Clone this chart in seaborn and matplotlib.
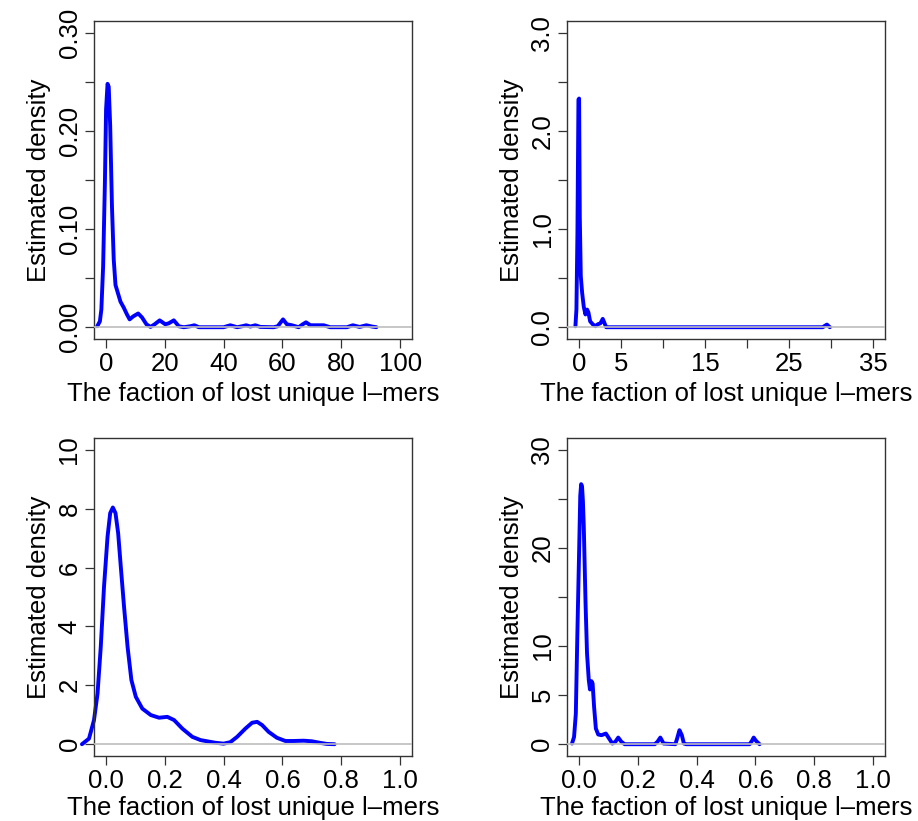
import matplotlib
matplotlib.use("Agg")
import matplotlib.pyplot as plt
import seaborn as sns
import pandas as pd

# ---------- DATA ----------
p1_x = [-2.9, -2.0, -1.5, -0.9, -0.3, 0.1, 0.6, 1.0, 1.5, 2.1, 2.7, 3.3, 4.1, 5.0, 6.1,
        7.2, 8.1, 9.3, 11.0, 12.3, 13.8, 15.2, 16.6, 18.3, 20.2, 21.4, 23.1, 24.8, 26.5,
        28.7, 30.1, 31.6, 40.0, 42.3, 44.6, 46.3, 47.7, 49.1, 50.8, 52.5, 57.0, 58.4,
        60.2, 61.5, 63.2, 65.5, 66.9, 68.0, 69.5, 71.7, 74.0, 76.2, 81.9, 83.9, 86.2,
        88.5, 90.4, 91.9]
p1_y = [0.001, 0.006, 0.018, 0.062, 0.147, 0.222, 0.248, 0.245, 0.205, 0.123, 0.069,
        0.043, 0.035, 0.026, 0.020, 0.013, 0.008, 0.011, 0.014, 0.010, 0.003, 0.0003,
        0.003, 0.007, 0.003, 0.004, 0.007, 0.001, 0.0, 0.001, 0.002, 0.0, 0.0, 0.002,
        0.0, 0.001, 0.002, 0.0007, 0.002, 0.0003, 0.0, 0.001, 0.008, 0.003, 0.002, 0.0,
        0.003, 0.005, 0.002, 0.002, 0.002, 0.0, 0.0, 0.002, 0.0003, 0.002, 0.0007, 0.0]

p2_x = [-0.4, -0.28, -0.16, -0.04, 0.04, 0.12, 0.24, 0.40, 0.59, 0.79, 0.99, 1.15, 1.35,
        1.66, 1.98, 2.26, 2.57, 2.85, 3.05, 3.25, 29.0, 29.3, 29.5, 29.7, 29.85]
p2_y = [0.01, 0.18, 0.96, 2.32, 2.33, 1.13, 0.52, 0.35, 0.21, 0.13, 0.18, 0.15, 0.06,
        0.03, 0.01, 0.03, 0.04, 0.085, 0.044, 0.0, 0.0, 0.017, 0.027, 0.01, 0.0]

p3_x = [-0.081, -0.057, -0.040, -0.028, -0.017, -0.006, 0.006, 0.015, 0.024, 0.033,
        0.042, 0.051, 0.062, 0.074, 0.087, 0.102, 0.124, 0.153, 0.181, 0.209, 0.232,
        0.260, 0.294, 0.322, 0.344, 0.372, 0.400, 0.423, 0.446, 0.474, 0.497, 0.514,
        0.531, 0.553, 0.581, 0.610, 0.638, 0.672, 0.700, 0.729, 0.751, 0.777]
p3_y = [0.0, 0.19, 0.82, 1.72, 3.31, 5.35, 7.05, 7.85, 8.04, 7.85, 7.17, 6.03, 4.67,
        3.31, 2.18, 1.61, 1.21, 0.99, 0.90, 0.93, 0.82, 0.53, 0.25, 0.14, 0.10, 0.05,
        0.02, 0.07, 0.25, 0.53, 0.73, 0.76, 0.65, 0.42, 0.22, 0.11, 0.11, 0.12, 0.10,
        0.045, 0.01, 0.0]

p4_x = [-0.023, -0.016, -0.010, -0.005, 0.001, 0.005, 0.008, 0.011, 0.014, 0.017, 0.023,
        0.028, 0.034, 0.038, 0.043, 0.047, 0.052, 0.058, 0.066, 0.077, 0.092, 0.103,
        0.114, 0.124, 0.134, 0.145, 0.156, 0.258, 0.267, 0.277, 0.288, 0.328, 0.334,
        0.342, 0.350, 0.357, 0.365, 0.580, 0.588, 0.594, 0.602, 0.614]
p4_y = [0.07, 0.75, 3.13, 10.95, 19.46, 25.3, 26.5, 26.3, 24.8, 22.18, 14.35, 9.25,
        6.53, 5.58, 6.43, 6.19, 3.81, 1.60, 0.99, 0.92, 1.09, 0.58, 0.07, 0.24, 0.68,
        0.24, 0.0, 0.0, 0.24, 0.68, 0.07, 0.0, 0.58, 1.43, 0.92, 0.07, 0.0, 0.0, 0.34,
        0.68, 0.34, 0.0]

x_label = "The faction of lost unique l\u2013mers"
y_label = "Estimated density"

# ticks and which labels R kept
panels = [
    dict(x=p1_x, y=p1_y, xlim=(0, 100), ylim=(0, 0.30),
         xticks=[0, 20, 40, 60, 80, 100], xlabels=["0", "20", "40", "60", "80", "100"],
         yticks=[0, 0.05, 0.10, 0.15, 0.20, 0.25, 0.30],
         ylabels=["0.00", "", "0.10", "", "0.20", "", "0.30"]),
    dict(x=p2_x, y=p2_y, xlim=(0, 35), ylim=(0, 3.0),
         xticks=[0, 5, 10, 15, 20, 25, 30, 35], xlabels=["0", "5", "", "15", "", "25", "", "35"],
         yticks=[0, 0.5, 1.0, 1.5, 2.0, 2.5, 3.0],
         ylabels=["0.0", "", "1.0", "", "2.0", "", "3.0"]),
    dict(x=p3_x, y=p3_y, xlim=(0, 1), ylim=(0, 10),
         xticks=[0, 0.2, 0.4, 0.6, 0.8, 1.0], xlabels=["0.0", "0.2", "0.4", "0.6", "0.8", "1.0"],
         yticks=[0, 2, 4, 6, 8, 10], ylabels=["0", "2", "4", "6", "8", "10"]),
    dict(x=p4_x, y=p4_y, xlim=(0, 1), ylim=(0, 30),
         xticks=[0, 0.2, 0.4, 0.6, 0.8, 1.0], xlabels=["0.0", "0.2", "0.4", "0.6", "0.8", "1.0"],
         yticks=[0, 5, 10, 15, 20, 25, 30], ylabels=["0", "5", "10", "", "20", "", "30"]),
]

sns.set_theme(style="ticks")
plt.rcParams["font.family"] = ["Liberation Sans", "DejaVu Sans"]
plt.rcParams["text.color"] = "black"
plt.rcParams["axes.labelcolor"] = "black"
plt.rcParams["xtick.labelcolor"] = "black"
plt.rcParams["ytick.labelcolor"] = "black"

fig = plt.figure(figsize=(9.18, 8.21), dpi=100)
W, H = 918, 821
# axes boxes in pixels: left, top, right, bottom
boxes = [(94, 21, 412, 339), (567, 21, 885, 339), (94, 438, 412, 756), (567, 438, 885, 756)]

FS = 18.5
for i, (p, (l, t, r, b)) in enumerate(zip(panels, boxes)):
    ax = fig.add_axes([l / W, (H - b) / H, (r - l) / W, (b - t) / H])
    df = pd.DataFrame({"x": p["x"], "y": p["y"]})
    sns.lineplot(data=df, x="x", y="y", ax=ax, color="#0000FF", linewidth=2.8,
                 sort=False, estimator=None)
    # R does not clip the curve at the box edge here
    ax.lines[-1].set_clip_on(False)
    ax.axhline(0, color="#BEBEBE", linewidth=1.2, zorder=3)

    x0, x1 = p["xlim"]
    y0, y1 = p["ylim"]
    dx, dy = 0.04 * (x1 - x0), 0.04 * (y1 - y0)
    ax.set_xlim(x0 - dx, x1 + dx)
    ax.set_ylim(y0 - dy, y1 + dy)

    ax.set_xticks(p["xticks"])
    ax.set_xticklabels(p["xlabels"], fontsize=FS)
    ax.set_yticks(p["yticks"])
    ax.set_yticklabels(p["ylabels"], fontsize=FS, rotation=90, va="center")
    ax.tick_params(axis="both", length=6.5, width=0.9, color="#333333", pad=2.5)

    for s in ax.spines.values():
        s.set_visible(True)
        s.set_color("#333333")
        s.set_linewidth(1.0)

    # bottom row label sits tight against the figure edge
    ax.set_xlabel(x_label, fontsize=FS, labelpad=5 if i < 2 else 2.5)
    ax.set_ylabel(y_label, fontsize=FS, labelpad=5)

fig.savefig("out.png", dpi=100)
